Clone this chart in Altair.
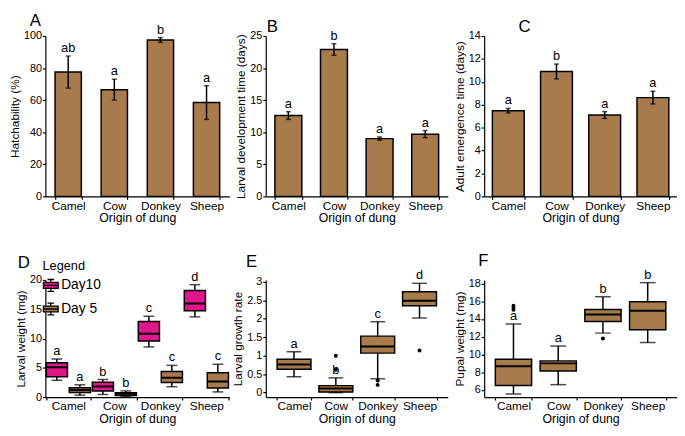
import altair as alt
import pandas as pd

# ---------------- data ----------------
origins = ["Camel", "Cow", "Donkey", "Sheep"]

hatch_mean = [77.5, 66.5, 97.5, 58.5]
hatch_err = [10.0, 6.5, 1.5, 10.5]
hatch_sig = ["ab", "a", "b", "a"]

devel_mean = [12.6, 22.9, 9.0, 9.7]
devel_err = [0.6, 0.9, 0.25, 0.55]
devel_sig = ["a", "b", "a", "a"]

emerg_mean = [7.48, 10.9, 7.1, 8.62]
emerg_err = [0.2, 0.65, 0.3, 0.55]
emerg_sig = ["a", "b", "a", "a"]

days = ["Day10", "Day 5"]
w10_min = [2.87, 0.44, 8.56, 13.7]
w10_q1 = [3.48, 1.05, 9.56, 14.75]
w10_med = [5.08, 1.82, 10.8, 16.0]
w10_q3 = [5.86, 2.54, 12.9, 18.2]
w10_max = [6.5, 3.0, 13.8, 19.2]
w10_sig = ["a", "b", "c", "d"]
w5_min = [0.33, 0.1, 1.77, 0.88]
w5_q1 = [0.77, 0.28, 2.49, 1.55]
w5_med = [1.2, 0.55, 3.31, 2.65]
w5_q3 = [1.6, 0.72, 4.36, 4.14]
w5_max = [2.1, 1.05, 5.41, 5.6]
w5_sig = ["a", "b", "c", "c"]

gr_min = [0.43, 0.0, 0.375, 2.02]
gr_q1 = [0.636, 0.02, 1.07, 2.35]
gr_med = [0.76, 0.11, 1.25, 2.49]
gr_q3 = [0.905, 0.19, 1.53, 2.73]
gr_max = [1.11, 0.40, 1.92, 2.96]
gr_sig = ["a", "b", "c", "d"]
gr_out_origin = ["Cow", "Cow", "Donkey", "Donkey", "Sheep"]
gr_out_value = [1.0, 0.62, 0.33, 0.21, 1.14]

pw_min = [5.54, 6.6, 12.41, 11.35]
pw_q1 = [6.5, 8.14, 13.73, 12.8]
pw_med = [8.68, 9.0, 14.5, 14.94]
pw_q3 = [9.46, 9.28, 15.08, 15.94]
pw_max = [13.45, 10.95, 16.5, 18.1]
pw_sig = ["a", "a", "b", "b"]
pw_out_origin = ["Camel", "Camel", "Camel", "Donkey"]
pw_out_value = [15.05, 15.26, 15.5, 11.8]

# ---------------- style ----------------
BROWN = "#A87B4D"
PINK = "#E0168B"
FONT = "Liberation Sans"
H1 = 163
H2 = 119
ROW_GAP = 85
LEGEND_GLYPH = ("M-1,-0.4H1V0.4H-1Z M-1,0H1 M0,-0.4V-0.8 M-0.45,-0.8H0.45 "
                "M0,0.4V0.8 M-0.45,0.8H0.45")


def panel_title(letter, dx, offset):
    return alt.TitleParams(letter, anchor="start", frame="group", dx=dx, offset=offset,
                           fontSize=17, fontWeight="normal", color="black")


def x_enc(pi, po):
    return alt.X("origin:N", sort=origins,
                 scale=alt.Scale(paddingInner=pi, paddingOuter=po),
                 axis=alt.Axis(title="Origin of dung", labelAngle=0, tickBand="extent"))


def y_maker(title, domain, values, fmt=None):
    kw = dict(values=values, title=title)
    if fmt:
        kw["format"] = fmt

    def f(field):
        return alt.Y(f"{field}:Q", scale=alt.Scale(domain=domain, nice=False, zero=False),
                     axis=alt.Axis(**kw), title=title)
    return f


def letters(base, x, y, xo=None):
    enc = dict(x=x, y=y, text="sig:N")
    if xo is not None:
        enc["xOffset"] = xo
    return base.mark_text(baseline="alphabetic", dy=-4, fontSize=13, color="black").encode(**enc)


def bar_panel(means, errs, sigs, ytitle, domain, values, letter, width, pi, po, tdx, toff):
    df = pd.DataFrame({"origin": origins, "mean": means,
                       "lo": [m - e for m, e in zip(means, errs)],
                       "hi": [m + e for m, e in zip(means, errs)],
                       "sig": sigs})
    base = alt.Chart(df)
    x = x_enc(pi, po)
    y = y_maker(ytitle, domain, values)
    bars = base.mark_bar(fill=BROWN, stroke="black", strokeWidth=1.5).encode(x=x, y=y("mean"))
    err = base.mark_rule(color="black", strokeWidth=1.5).encode(x=x, y=y("lo"), y2="hi:Q")
    cap_hi = base.mark_tick(color="black", size=5, thickness=1.5).encode(x=x, y=y("hi"))
    cap_lo = base.mark_tick(color="black", size=5, thickness=1.5).encode(x=x, y=y("lo"))
    txt = letters(base, x, y("hi"))
    return alt.layer(bars, err, cap_hi, cap_lo, txt).properties(
        width=width, height=H1, title=panel_title(letter, tdx, toff))


def box_panel(mins, q1s, meds, q3s, maxs, sigs, out_o, out_v, ytitle, domain, values, fmt,
              letter, width, pi, po, tdx, toff, cap):
    df = pd.DataFrame({"origin": origins, "mn": mins, "q1": q1s, "med": meds,
                       "q3": q3s, "mx": maxs, "sig": sigs})
    od = pd.DataFrame({"origin": out_o, "value": out_v})
    base = alt.Chart(df)
    x = x_enc(pi, po)
    y = y_maker(ytitle, domain, values, fmt)
    whisk = base.mark_rule(color="black", strokeWidth=1.5).encode(x=x, y=y("mn"), y2="mx:Q")
    cap_hi = base.mark_tick(color="black", size=cap, thickness=1.5).encode(x=x, y=y("mx"))
    cap_lo = base.mark_tick(color="black", size=cap, thickness=1.5).encode(x=x, y=y("mn"))
    box = base.mark_bar(fill=BROWN, stroke="black", strokeWidth=1.5).encode(x=x, y=y("q1"), y2="q3:Q")
    med = base.mark_bar(fill=BROWN, stroke="black", strokeWidth=2).encode(x=x, y=y("med"), y2="med:Q")
    out = alt.Chart(od).mark_circle(color="black", size=16, opacity=1).encode(x=x, y=y("value"))
    txt = letters(base, x, y("mx"))
    return alt.layer(whisk, cap_hi, cap_lo, box, med, out, txt).properties(
        width=width, height=H2, title=panel_title(letter, tdx, toff))


def weight_panel(width, tdx, toff):
    rows = []
    for day, mn, q1, md, q3, mx, sg in [("Day10", w10_min, w10_q1, w10_med, w10_q3, w10_max, w10_sig),
                                         ("Day 5", w5_min, w5_q1, w5_med, w5_q3, w5_max, w5_sig)]:
        for i, o in enumerate(origins):
            rows.append({"origin": o, "day": day, "mn": mn[i], "q1": q1[i], "med": md[i],
                         "q3": q3[i], "mx": mx[i], "sig": sg[i]})
    df = pd.DataFrame(rows)
    base = alt.Chart(df)
    x = x_enc(0.04, 0.02)
    xo = alt.XOffset("day:N", sort=days, scale=alt.Scale(paddingInner=0.08))
    y = y_maker("Larval weight (mg)", [0, 20], [0, 5, 10, 15, 20])
    # legends of concatenated views are placed relative to the whole chart's origin
    fill = alt.Fill("day:N", sort=days, scale=alt.Scale(domain=days, range=[PINK, BROWN]),
                    legend=alt.Legend(title="Legend", orient="none", legendX=-3,
                                      legendY=H1 + ROW_GAP - 20,
                                      symbolType=LEGEND_GLYPH, symbolSize=225,
                                      symbolStrokeColor="black", symbolStrokeWidth=1.3,
                                      labelFontSize=14, titleFontSize=13, titleFontWeight="normal",
                                      padding=0, rowPadding=5, titlePadding=4, labelOffset=2,
                                      labelColor="black", titleColor="black"))
    whisk = base.mark_rule(color="black", strokeWidth=1.5).encode(x=x, xOffset=xo, y=y("mn"), y2="mx:Q")
    cap_hi = base.mark_tick(color="black", size=11, thickness=1.5).encode(x=x, xOffset=xo, y=y("mx"))
    cap_lo = base.mark_tick(color="black", size=11, thickness=1.5).encode(x=x, xOffset=xo, y=y("mn"))
    box = base.mark_bar(stroke="black", strokeWidth=1.5).encode(x=x, xOffset=xo, y=y("q1"), y2="q3:Q", fill=fill)
    med = base.mark_bar(fill=BROWN, stroke="black", strokeWidth=2).encode(x=x, xOffset=xo, y=y("med"), y2="med:Q")
    txt = letters(base, x, y("mx"), xo)
    return alt.layer(whisk, cap_hi, cap_lo, box, med, txt).properties(
        width=width, height=H2, title=panel_title("D", tdx, toff))


ROW1_OFF = -6
ROW2_OFF = -1
A = bar_panel(hatch_mean, hatch_err, hatch_sig, "Hatchability (%)", [0, 100],
              [0, 20, 40, 60, 80, 100], "A", 187, 0.43, 0.21, -16, ROW1_OFF)
B = bar_panel(devel_mean, devel_err, devel_sig, "Larval development time (days)", [0, 25],
              [0, 5, 10, 15, 20, 25], "B", 185, 0.41, 0.2, 1, ROW1_OFF)
C = bar_panel(emerg_mean, emerg_err, emerg_sig, "Adult emergence time (days)", [0, 14],
              [0, 2, 4, 6, 8, 10, 12, 14], "C", 196, 0.34, 0.17, 35, ROW1_OFF)
D = weight_panel(187, -28, ROW2_OFF)
E = box_panel(gr_min, gr_q1, gr_med, gr_q3, gr_max, gr_sig, gr_out_origin, gr_out_value,
              "Larval growth rate", [-0.12, 3.05], [0, 0.5, 1, 1.5, 2, 2.5, 3], "~g",
              "E", 185, 0.19, 0.27, -20, ROW2_OFF, 15)
F = box_panel(pw_min, pw_q1, pw_med, pw_q3, pw_max, pw_sig, pw_out_origin, pw_out_value,
              "Pupal weight (mg)", [5.2, 18.4], [6, 8, 10, 12, 14, 16, 18], None,
              "F", 196, 0.19, 0.25, -6, ROW2_OFF, 16)

chart = alt.concat(
    A, B, C, D, E, F, columns=3, bounds="flush", align="each",
    spacing={"row": ROW_GAP, "column": 37},
).properties(
    padding={"left": 0, "top": 0, "right": 0, "bottom": 0}
).configure(
    font=FONT
).configure_axis(
    domainColor="black", domainWidth=1.2, tickColor="black", tickWidth=1.2, tickSize=3,
    labelColor="black", titleColor="black", titleFontSize=12, titleFontWeight="normal",
    grid=False, labelPadding=1, titlePadding=2, titleLimit=400
).configure_axisX(
    labelFontSize=12, titleFontSize=12.5, titlePadding=1
).configure_axisY(
    labelFontSize=11
).configure_view(stroke=None)

chart.save("out.html", embed_options={"renderer": "svg", "actions": False})
